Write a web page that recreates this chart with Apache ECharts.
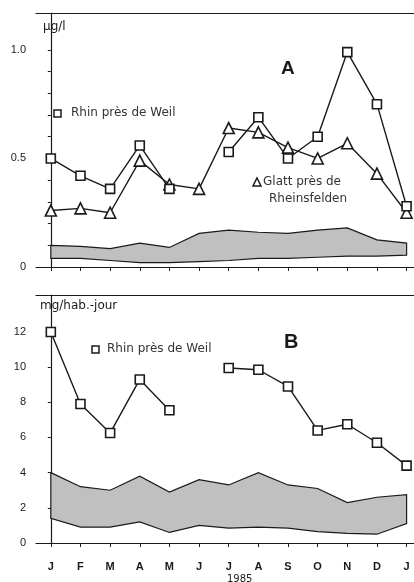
<!DOCTYPE html>
<html>
<head>
<meta charset="utf-8">
<script src="https://cdn.jsdelivr.net/npm/echarts@6/dist/echarts.min.js"></script>
<style>
  html, body { margin: 0; padding: 0; background: #fff; }
  #chart { width: 414px; height: 582px; }
</style>
</head>
<body>
<div id="chart"></div>
<script>
// month letters, Jan 1985 .. Jan 1986
var months = ['J', 'F', 'M', 'A', 'M', 'J', 'J', 'A', 'S', 'O', 'N', 'D', 'J'];

// panel A (µg/l)
var rhinA = [0.50, 0.42, 0.36, 0.56, 0.36, null, 0.53, 0.69, 0.50, 0.60, 0.99, 0.75, 0.28];
var glattA = [0.26, 0.27, 0.25, 0.49, 0.38, 0.36, 0.64, 0.62, 0.55, 0.50, 0.57, 0.43, 0.25];
var bandLowA = [0.04, 0.04, 0.03, 0.02, 0.02, 0.025, 0.03, 0.04, 0.04, 0.045, 0.05, 0.05, 0.055];
var bandHighA = [0.10, 0.095, 0.085, 0.11, 0.09, 0.155, 0.17, 0.16, 0.155, 0.17, 0.18, 0.125, 0.11];
var yTicksA = [0, 0.1, 0.2, 0.3, 0.4, 0.5, 0.6, 0.7, 0.8, 0.9, 1.0];
var yLabelValsA = [0, 0.5, 1.0];
var yLabelsA = ['0', '0.5', '1.0'];

// panel B (mg/hab.-jour)
var rhinB = [12.0, 7.9, 6.25, 9.3, 7.55, null, 9.95, 9.85, 8.9, 6.4, 6.75, 5.7, 4.4];
var bandLowB = [1.4, 0.9, 0.9, 1.2, 0.6, 1.0, 0.85, 0.9, 0.85, 0.65, 0.55, 0.5, 1.1];
var bandHighB = [4.0, 3.2, 3.0, 3.8, 2.9, 3.6, 3.3, 4.0, 3.3, 3.1, 2.3, 2.6, 2.75];
var yTicksB = [0, 2, 4, 6, 8, 10, 12];

var FONT = '"Liberation Sans", Arial, sans-serif';
var TFONT = '"DejaVu Sans", sans-serif';
var INK = '#1a1a1a';
var BAND = '#c0c0c0';

function pairs(arr) {
  return arr.map(function (v, i) { return [i, v]; });
}
var monthIdx = months.map(function (m, i) { return i; });

function xAxisFor(gi, showLabels) {
  return {
    type: 'value', gridIndex: gi, min: -0.5, max: 12.25,
    axisLine: { show: true, lineStyle: { color: INK, width: 1.2 } },
    axisTick: { show: true, inside: false, length: 4, customValues: monthIdx, lineStyle: { color: INK } },
    axisLabel: {
      show: showLabels, customValues: monthIdx, margin: 18,
      fontFamily: FONT, fontSize: 11, fontWeight: 'bold', color: INK,
      formatter: function (v) { return months[Math.round(v)]; }
    },
    splitLine: { show: false }
  };
}
function topFrame(gi) {
  return {
    type: 'value', gridIndex: gi, position: 'top', min: 0, max: 1,
    axisLine: { show: true, onZero: false, lineStyle: { color: INK, width: 1.2 } },
    axisTick: { show: false }, axisLabel: { show: false }, splitLine: { show: false }
  };
}

// shaded band between a low and a high curve, as one closed polygon
function bandSeries(axisIdx, low, high) {
  return {
    type: 'custom', xAxisIndex: axisIdx, yAxisIndex: axisIdx,
    data: [[0, 0]], z: 1,
    renderItem: function (params, api) {
      var pts = [];
      var i;
      for (i = 0; i < high.length; i++) pts.push(api.coord([i, high[i]]));
      for (i = low.length - 1; i >= 0; i--) pts.push(api.coord([i, low[i]]));
      return {
        type: 'polygon',
        shape: { points: pts },
        style: { fill: BAND, stroke: INK, lineWidth: 1.2 }
      };
    }
  };
}

var lineStyle = { color: INK, width: 1.4 };
var markerStyle = { color: '#fff', borderColor: INK, borderWidth: 1.6 };

var option = {
  animation: false,
  backgroundColor: '#fff',
  grid: [
    { left: 36, top: 13, right: 0, height: 254 },
    { left: 36, top: 295, right: 0, height: 248 }
  ],
  xAxis: [xAxisFor(0, false), xAxisFor(1, true), topFrame(0), topFrame(1)],
  yAxis: [
    {
      type: 'value', gridIndex: 0, min: 0, max: 1.17,
      axisLine: { show: true, lineStyle: { color: INK, width: 1.2 } },
      axisTick: { show: true, length: 3, customValues: yTicksA, lineStyle: { color: INK } },
      axisLabel: {
        customValues: yLabelValsA, margin: 10,
        fontFamily: FONT, fontSize: 11, color: INK,
        formatter: function (v) { return yLabelsA[yLabelValsA.indexOf(Math.round(v * 10) / 10)]; }
      },
      splitLine: { show: false }
    },
    {
      type: 'value', gridIndex: 1, min: 0, max: 14.1,
      axisLine: { show: true, lineStyle: { color: INK, width: 1.2 } },
      axisTick: { show: true, length: 3, customValues: yTicksB, lineStyle: { color: INK } },
      axisLabel: {
        customValues: yTicksB, margin: 10,
        fontFamily: FONT, fontSize: 11, color: INK
      },
      splitLine: { show: false }
    }
  ],
  series: [
    bandSeries(0, bandLowA, bandHighA),
    {
      name: 'Glatt près de Rheinsfelden', type: 'line', xAxisIndex: 0, yAxisIndex: 0,
      data: pairs(glattA), symbol: 'triangle', symbolSize: 11,
      lineStyle: lineStyle, itemStyle: markerStyle
    },
    {
      name: 'Rhin près de Weil', type: 'line', xAxisIndex: 0, yAxisIndex: 0,
      data: pairs(rhinA), connectNulls: false, symbol: 'rect', symbolSize: 9,
      lineStyle: lineStyle, itemStyle: markerStyle
    },
    bandSeries(1, bandLowB, bandHighB),
    {
      name: 'Rhin près de Weil', type: 'line', xAxisIndex: 1, yAxisIndex: 1,
      data: pairs(rhinB), connectNulls: false, symbol: 'rect', symbolSize: 9,
      lineStyle: lineStyle, itemStyle: markerStyle
    }
  ],
  graphic: [
    // panel A texts
    { type: 'text', z: 100, left: 43, top: 21, style: { text: 'µg/l', font: '12px ' + TFONT, fill: INK } },
    { type: 'text', z: 100, left: 281, top: 59, style: { text: 'A', font: 'bold 19px ' + FONT, fill: INK } },
    { type: 'rect', z: 100, shape: { x: 54, y: 110, width: 7, height: 7 }, style: { fill: '#fff', stroke: INK, lineWidth: 1.5 } },
    { type: 'text', z: 100, left: 71, top: 107, style: { text: 'Rhin près de Weil', font: '12px ' + TFONT, fill: '#333' } },
    { type: 'polygon', z: 100, shape: { points: [[257, 178], [261, 186], [253, 186]] }, style: { fill: '#fff', stroke: INK, lineWidth: 1.5 } },
    { type: 'text', z: 100, left: 263, top: 176, style: { text: 'Glatt près de', font: '12px ' + TFONT, fill: '#333' } },
    { type: 'text', z: 100, left: 269, top: 193, style: { text: 'Rheinsfelden', font: '12px ' + TFONT, fill: '#333' } },
    // panel B texts
    { type: 'text', z: 100, left: 40, top: 300, style: { text: 'mg/hab.-jour', font: '12px ' + TFONT, fill: INK } },
    { type: 'text', z: 100, left: 284, top: 332, style: { text: 'B', font: 'bold 20px ' + FONT, fill: INK } },
    { type: 'rect', z: 100, shape: { x: 92, y: 346, width: 7, height: 7 }, style: { fill: '#fff', stroke: INK, lineWidth: 1.5 } },
    { type: 'text', z: 100, left: 107, top: 343, style: { text: 'Rhin près de Weil', font: '12px ' + TFONT, fill: '#333' } },
    { type: 'text', z: 100, left: 227, top: 574, style: { text: '1985', font: '10px ' + TFONT, fill: INK } }
  ]
};

var chart = echarts.init(document.getElementById('chart'), null, { renderer: 'canvas' });
chart.setOption(option);
</script>
</body>
</html>
